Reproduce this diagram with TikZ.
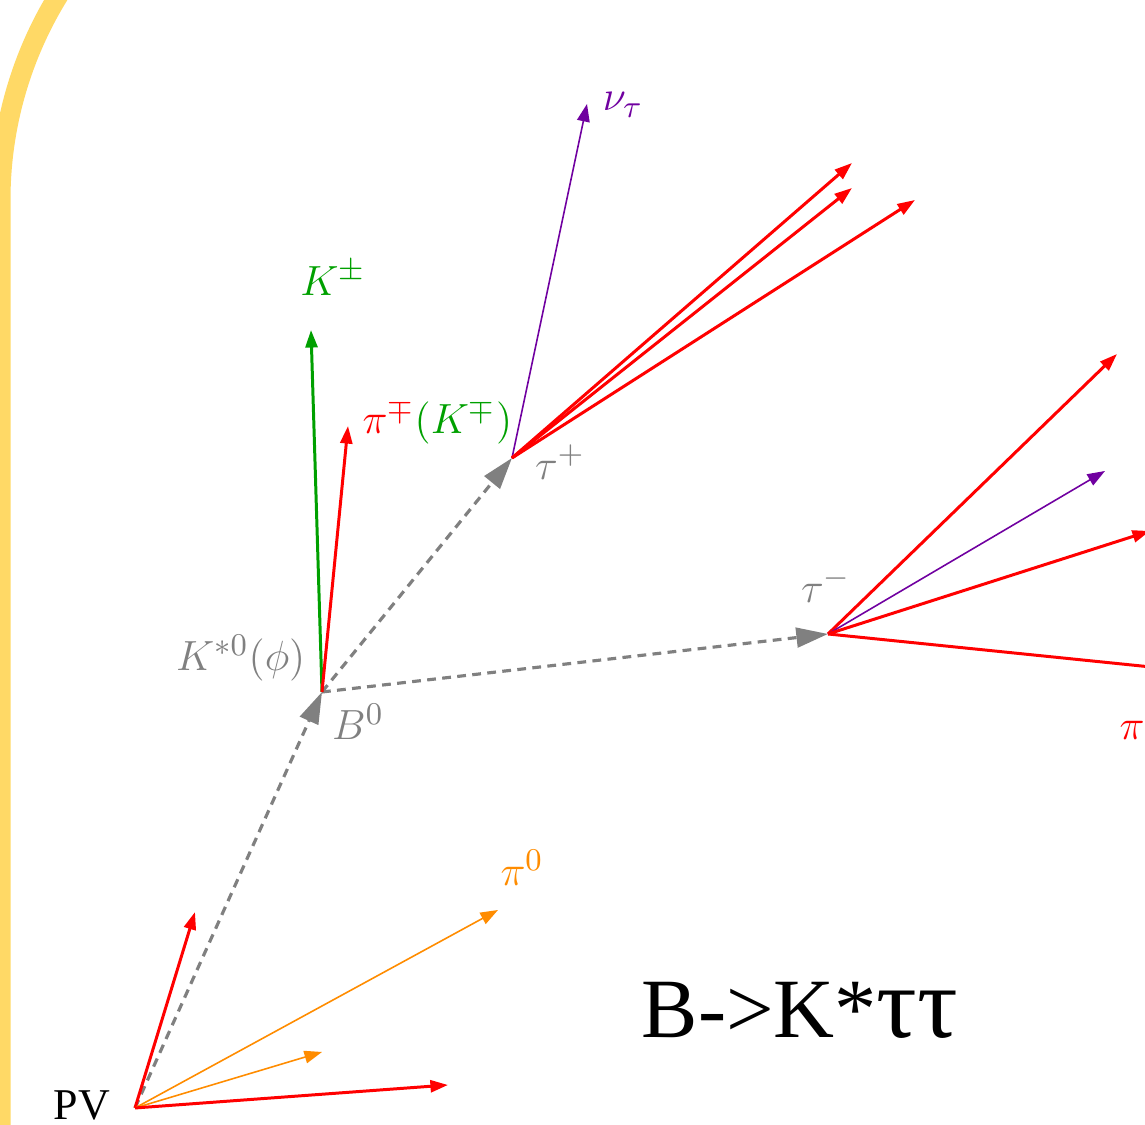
\documentclass[tikz,border=0pt]{standalone}
\usepackage{amsmath}
\usepackage{fontspec}
\setmainfont{Liberation Serif}
\usetikzlibrary{arrows.meta}
\definecolor{frameyellow}{RGB}{255,217,102}
\definecolor{kgreen}{RGB}{0,160,0}
\definecolor{nupurple}{RGB}{112,0,160}
\definecolor{pizorange}{RGB}{255,140,0}
\definecolor{bgray}{RGB}{128,128,128}

\begin{document}
\begin{tikzpicture}[x=0.01cm,y=0.01cm,
  pion/.style={red,line width=0.85pt,-{Triangle[length=5pt,width=3.4pt]}},
  kaon/.style={kgreen,line width=0.85pt,-{Triangle[length=5pt,width=3.4pt]}},
  nutrack/.style={nupurple,line width=0.45pt,-{Triangle[length=5pt,width=3.6pt]}},
  pizero/.style={pizorange,line width=0.45pt,-{Triangle[length=5pt,width=3.6pt]}},
  flight/.style={bgray,line width=0.9pt,dash pattern=on 2.5pt off 1.8pt,-{Triangle[length=9pt,width=5.6pt]}},
  lab/.style={font=\fontsize{12.5}{15}\selectfont,inner sep=0pt}]
  \useasboundingbox (0,0) rectangle (1145,1125);
  \clip (0,0) rectangle (1145,1125);
  \draw[frameyellow,line width=0.2cm] (0.5,-20) -- (0.5,925) arc (180:120:390);
  % vertices
  \coordinate (PV) at (135,17);
  \coordinate (B0) at (322,433);
  \coordinate (tauP) at (512,667);
  \coordinate (tauM) at (828,491);
  % track ends
  \coordinate (pvA) at (195,213);
  \coordinate (pvB) at (498,215);
  \coordinate (pvC) at (322,73);
  \coordinate (pvD) at (448,40);
  \coordinate (kA) at (311,795);
  \coordinate (kB) at (348,699);
  \coordinate (nuP) at (587,1021);
  \coordinate (pA) at (852,962);
  \coordinate (pB) at (852,937);
  \coordinate (pC) at (915,925);
  \coordinate (mA) at (1117,771);
  \coordinate (nuM) at (1105,654);
  \coordinate (mB) at (1150,594);
  \coordinate (mC) at (1200,453);
  % flight lines
  \draw[flight] (PV) -- (B0);
  \draw[flight] (B0) -- (tauP);
  \draw[flight] (B0) -- (tauM);
  % primary vertex
  \draw[pion] (PV) -- (pvA);
  \draw[pizero] (PV) -- (pvB);
  \draw[pizero] (PV) -- (pvC);
  \draw[pion] (PV) -- (pvD);
  % B0 decay
  \draw[kaon] (B0) -- (kA);
  \draw[pion] (B0) -- (kB);
  % tau+
  \draw[nutrack] (tauP) -- (nuP);
  \draw[pion] (tauP) -- (pA);
  \draw[pion] (tauP) -- (pB);
  \draw[pion] (tauP) -- (pC);
  % tau-
  \draw[pion] (tauM) -- (mA);
  \draw[nutrack] (tauM) -- (nuM);
  \draw[pion] (tauM) -- (mB);
  \draw[red,line width=0.85pt] (tauM) -- (mC);
  % labels
  \node[font=\fontsize{12.5}{15}\selectfont,inner sep=0pt] (pvlab) at (82,20) {PV};
  \node[lab,pizorange] (pi0lab) at (522,257) {$\pi^0$};
  \node[lab,bgray,anchor=east] (kstlab) at (306,467) {$K^{*0}(\phi)$};
  \node[lab,bgray] (b0lab) at (358,403) {$B^0$};
  \node[lab,kgreen] (kplab) at (333,847) {$K^{\pm}$};
  \node[lab,anchor=west] (pimlab) at (362,703) {$\color{red}\pi^{\mp}\color{kgreen}(K^{\mp})$};
  \node[lab,bgray] (taPlab) at (560,663) {$\tau^+$};
  \node[lab,nupurple] (nulab) at (623,1020) {$\nu_\tau$};
  \node[lab,bgray] (taMlab) at (826,540) {$\tau^-$};
  \node[lab,red,anchor=west] (pirlab) at (1119,395) {$\pi$};
  \node[font=\fontsize{24}{28}\selectfont,inner sep=0pt] (title) at (800,115) {B->K*\scalebox{1.2}{ττ}};
\end{tikzpicture}
\end{document}
